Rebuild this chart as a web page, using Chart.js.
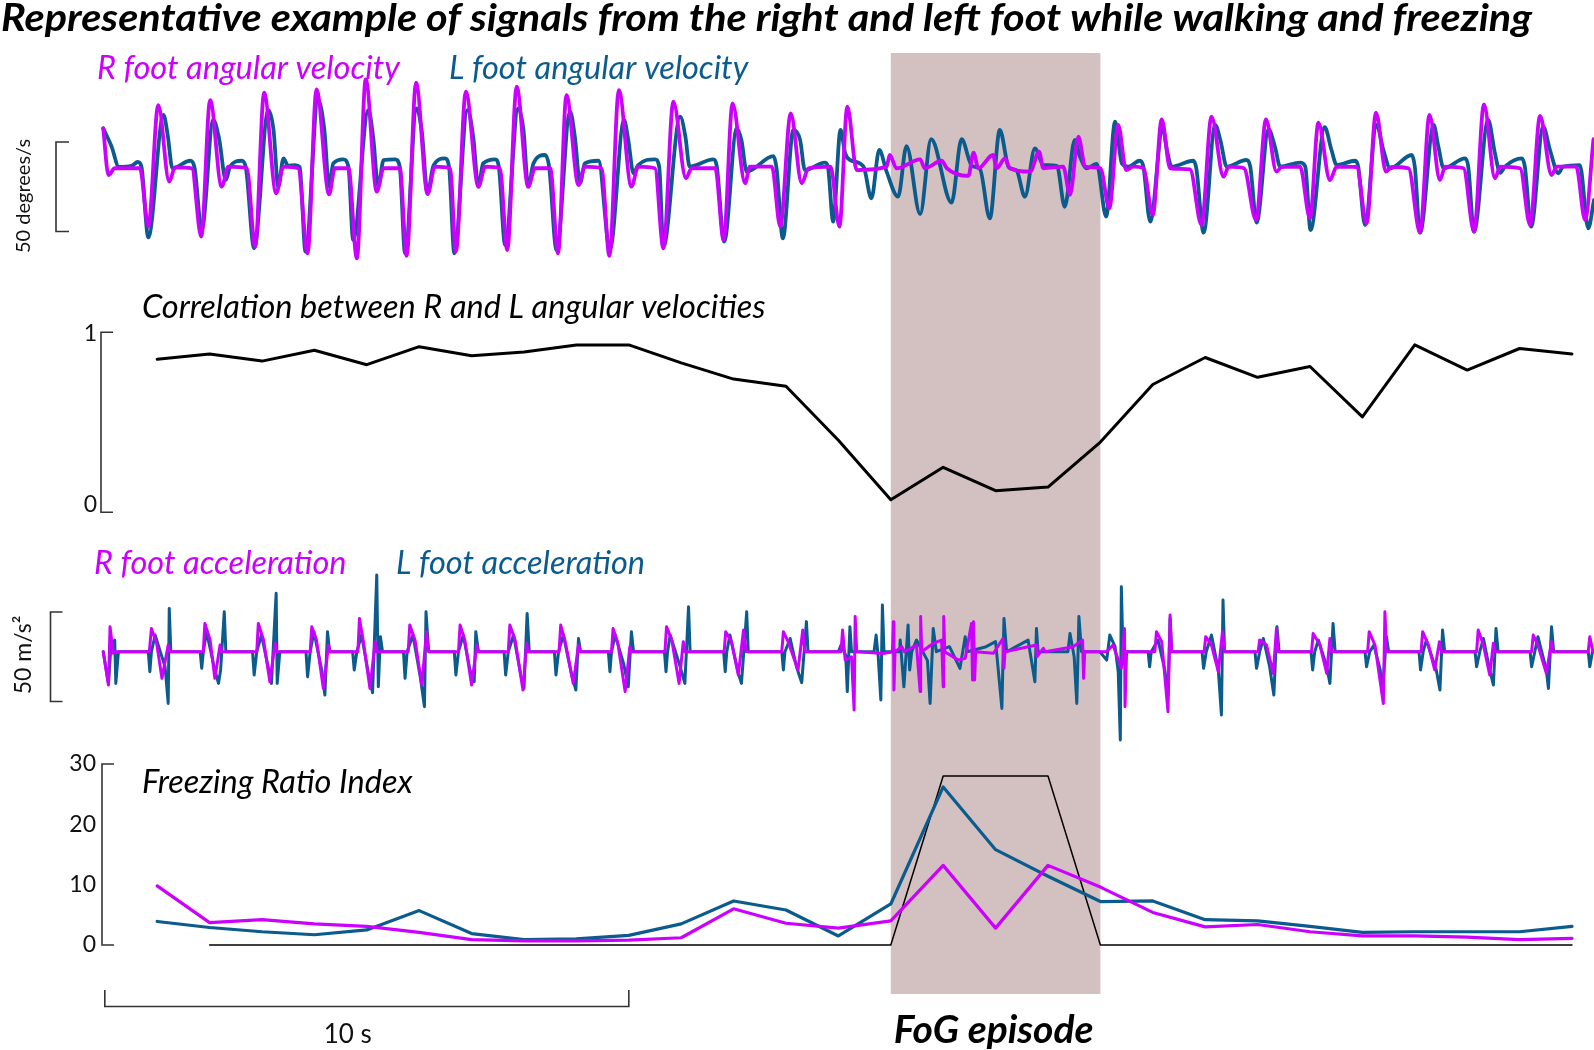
<!DOCTYPE html>
<html>
<head>
<meta charset="utf-8">
<title>Walking and freezing signals</title>
<script src="https://cdn.jsdelivr.net/npm/chart.js@4.4.0/dist/chart.umd.min.js"></script>
<style>
  html, body { margin: 0; padding: 0; background: #fff; }
  #wrap { width: 1594px; height: 1050px; }
</style>
</head>
<body>
<div id="wrap"><canvas id="fogChart" width="1594" height="1050"></canvas></div>
<script>
/* ===============================
   Data (time in s)
================================ */
// FoG episode and the 10 s scale bar
const fogStart = 15;
const fogEnd = 19;
const scaleBarStart = 0;
const scaleBarLength = 10;

// Angular velocity, deg/s: [t, value]
const rAngVel = [
  [-0.03,21.6],[0.07,-4.5],[0.19,-0.7],[0.67,-0.7],[0.83,-33.3],[1.02,34.6],[1.23,-8.2],[1.34,-0.2],
  [1.66,-0.7],[1.84,-38.9],[2.01,37.4],[2.23,-11.0],[2.36,0.2],[2.71,-0.7],[2.87,-44.5],[3.04,41.5],
  [3.27,-14.7],[3.41,0.2],[3.69,-0.7],[3.87,-48.2],[4.04,43.4],[4.28,-15.3],[4.39,-0.7],[4.65,-0.7],
  [4.81,-51.0],[4.98,49.0],[5.19,-13.8],[5.32,-0.7],[5.63,-0.7],[5.76,-49.7],[5.94,47.1],[6.16,-15.1],
  [6.30,0.2],[6.59,-0.7],[6.70,-47.3],[6.89,42.1],[7.13,-11.0],[7.26,0.2],[7.54,-0.7],[7.68,-46.4],
  [7.86,44.9],[8.08,-11.0],[8.21,-0.7],[8.50,-0.7],[8.65,-48.2],[8.81,40.2],[9.04,-10.1],[9.16,0.2],
  [9.48,-0.7],[9.63,-49.7],[9.81,43.0],[10.05,-11.0],[10.18,0.2],[10.50,-0.7],[10.66,-45.4],[10.85,36.5],
  [11.09,-6.3],[11.20,-0.7],[11.65,-0.7],[11.81,-40.8],[11.98,35.6],[12.22,-9.1],[12.31,0.2],[12.73,0.2],
  [12.89,-33.3],[13.09,30.0],[13.30,-9.1],[13.43,-0.7],[13.85,0.2],[14.02,-33.3],[14.17,33.7],[14.35,-1.7],
  [14.92,0.2],[14.98,6.7],[15.11,-0.7],[15.56,4.3],[15.65,-0.7],[15.97,3.5],[16.07,-0.7],[16.48,-5.0],
  [16.58,8.0],[16.67,-0.7],[16.95,6.7],[17.02,-0.7],[17.18,4.8],[17.27,-0.7],[17.66,-2.6],[17.83,8.6],
  [17.91,-0.7],[18.29,0.2],[18.42,-15.6],[18.58,17.0],[18.71,0.2],[19.00,-0.7],[19.17,-23.1],[19.34,23.5],
  [19.49,-1.7],[19.63,0.2],[19.82,-0.7],[20.00,-26.8],[20.17,26.6],[20.33,-0.7],[20.71,-1.3],[20.93,-32.4],
  [21.12,28.1],[21.35,-5.4],[21.45,0.2],[21.74,-0.7],[21.97,-29.6],[22.16,26.6],[22.36,-2.6],[22.46,0],
  [22.81,0.2],[23.00,-28.7],[23.16,24.8],[23.38,-7.3],[23.51,0.2],[23.89,0],[24.08,-31.5],[24.26,30.4],
  [24.45,-2.6],[24.56,0],[24.88,-0.7],[25.10,-36.7],[25.28,29.1],[25.48,-7.3],[25.58,0.2],[25.93,-0.7],
  [26.13,-36.1],[26.32,35.0],[26.53,-6.3],[26.63,0.2],[27.01,-0.7],[27.20,-32.4],[27.39,28.5],[27.61,-4.5],
  [27.71,0.2],[28.08,0.2],[28.25,-29.6],[28.41,15.5]
];
const lAngVel = [
  [-0.03,21.6],[0.13,11.4],[0.27,0],[0.51,0.6],[0.63,2.8],[0.70,0],[0.83,-39.3],[1.12,29.1],[1.20,17.9],
  [1.29,-0.7],[1.63,3.5],[1.71,0],[1.85,-35.2],[2.07,26.3],[2.18,16.0],[2.31,-7.3],[2.39,0.2],[2.61,3.5],
  [2.69,0],[2.85,-45.4],[3.12,31.8],[3.22,20.7],[3.31,-11.0],[3.41,4.8],[3.50,0.6],[3.63,1.1],[3.72,0],
  [3.83,-47.3],[4.07,37.4],[4.19,20.7],[4.28,-11.0],[4.36,2.0],[4.55,4.3],[4.65,0],[4.74,-40.8],[5.03,31.8],
  [5.12,17.0],[5.22,-11.0],[5.32,3.9],[5.54,4.3],[5.63,0],[5.73,-48.2],[5.95,32.8],[6.05,19.7],[6.16,-14.7],
  [6.27,0.6],[6.49,4.8],[6.57,0],[6.67,-48.2],[6.92,31.8],[7.03,17.0],[7.13,-11.0],[7.22,2.0],[7.45,4.3],
  [7.52,0],[7.64,-43.6],[7.89,32.8],[7.99,20.7],[8.08,-11.0],[8.18,2.0],[8.40,6.7],[8.48,0],[8.62,-46.4],
  [8.88,30.9],[8.97,17.0],[9.07,-9.1],[9.16,2.0],[9.42,3.5],[9.64,-46.0],[9.91,26.3],[9.99,15.0],[10.09,-3.5],
  [10.18,1.1],[10.50,4.3],[10.58,0.2],[10.66,-44.5],[10.98,28.1],[11.08,17.0],[11.16,0.2],[11.61,4.3],
  [11.68,0.2],[11.82,-41.7],[12.06,21.6],[12.15,15.0],[12.25,-2.6],[12.76,6.1],[12.82,-0.7],[12.94,-39.9],
  [13.14,20.7],[13.27,15.0],[13.36,-1.7],[13.74,2.4],[13.80,0.2],[13.90,-30.5],[14.04,20.7],[14.13,7.6],
  [14.22,3.9],[14.48,0.2],[14.63,-17.5],[14.78,9.5],[14.92,-2.6],[15.14,-16.6],[15.30,11.7],[15.56,-26.3],
  [15.77,15.5],[16.16,-19.9],[16.35,15.5],[16.55,0.5],[16.70,-1.0],[16.89,-28.7],[17.08,20.7],[17.25,0],
  [17.40,-2.0],[17.56,-16.6],[17.75,10.4],[17.91,1.1],[18.17,0.6],[18.32,-22.2],[18.51,15.1],[18.61,5.8],
  [18.74,-0.7],[18.93,1.7],[19.11,-27.7],[19.28,25.3],[19.41,2.0],[19.53,0.2],[19.75,3.5],[19.82,0.2],
  [19.95,-30.5],[20.19,21.6],[20.27,9.5],[20.36,0.2],[20.77,3.5],[20.83,-0.7],[20.97,-36.7],[21.19,23.5],
  [21.29,15.0],[21.41,0.2],[21.78,3.9],[21.86,0.2],[21.98,-31.1],[22.21,21.0],[22.33,11.4],[22.43,0.2],
  [22.81,2.4],[22.91,0.2],[23.01,-35.2],[23.28,22.2],[23.41,9.5],[23.51,1.1],[23.86,3.5],[23.92,0.2],
  [24.05,-32.4],[24.27,23.5],[24.40,9.5],[24.53,-0.7],[24.94,6.7],[25.00,0.2],[25.10,-36.7],[25.36,23.5],
  [25.45,11.4],[25.55,-0.7],[25.96,4.8],[26.02,0.2],[26.13,-36.1],[26.40,26.3],[26.53,7.6],[26.63,-3.2],
  [26.72,0.2],[27.04,4.8],[27.10,0.2],[27.22,-33.3],[27.45,22.5],[27.58,9.5],[27.74,-3.5],[27.83,0.2],
  [28.15,1.1],[28.31,-34.3],[28.42,-18.4]
];

// Correlation between R and L angular velocities (one value per second)
const corrTimes = [1,2,3,4,5,6,7,8,9,10,11,12,13,14,15,16,17,18,19,20,21,22,23,24,25,26,27,28];
const corrValues = [0.85,0.88,0.84,0.90,0.82,0.92,0.87,0.89,0.93,0.93,0.83,0.74,0.70,0.40,
                    0.07,0.25,0.12,0.14,0.39,0.71,0.86,0.75,0.81,0.53,0.93,0.79,0.91,0.88];

// Acceleration, m/s^2: [t, value]
const rAcc = [
  [-0.03,0],[0.07,-18.6],[0.10,14.0],[0.16,-0.9],[0.20,0],
  [0.85,0],[0.89,13.0],[0.99,4.7],[1.09,-14.9],[1.21,3.7],[1.24,0],
  [1.88,0],[1.91,15.8],[2.01,6.5],[2.10,-14.9],[2.20,3.7],[2.23,0],
  [2.90,0],[2.93,15.8],[3.03,6.5],[3.15,-16.8],[3.25,4.7],[3.28,0],
  [3.92,0],[3.95,14.0],[4.04,6.5],[4.17,-20.5],[4.27,3.7],[4.30,0],
  [4.83,0],[4.86,18.6],[4.93,6.5],[5.06,-20.5],[5.16,5.6],[5.19,0],
  [5.79,0],[5.82,14.9],[5.92,6.5],[6.05,-18.6],[6.14,11.2],[6.18,0],
  [6.75,0],[6.78,14.9],[6.87,6.5],[7.00,-18.6],[7.10,3.7],[7.13,0],
  [7.70,0],[7.73,14.9],[7.83,6.5],[7.98,-21.4],[8.05,4.7],[8.08,0],
  [8.67,0],[8.70,14.9],[8.78,6.5],[8.94,-17.7],[9.04,3.7],[9.08,0],
  [9.67,0],[9.70,13.0],[9.79,5.0],[9.93,-22.3],[10.02,2.8],[10.05,0],
  [10.69,0],[10.72,14.0],[10.82,6.5],[10.96,-17.7],[11.04,5.6],[11.07,0],
  [11.82,0],[11.85,11.2],[11.96,5.6],[12.09,-13.0],[12.19,12.1],[12.24,0],
  [12.92,0],[12.95,11.2],[13.04,5.6],[13.23,-10.2],[13.32,12.1],[13.36,0],
  [14.05,0],[14.08,12.1],[14.13,-4.7],[14.25,-2.8],[14.30,-32.6],[14.32,19.6],[14.35,0],
  [14.86,-1.0],[15.03,0],[15.05,16.8],[15.06,-21.4],[15.08,0],[15.21,2.8],[15.26,0],
  [15.49,3.7],[15.56,-22.3],[15.57,19.6],[15.59,0],[15.81,4.7],[15.97,6.5],[16.00,-19.6],[16.01,19.6],[16.03,0],
  [16.29,-4.7],[16.42,-3.7],[16.54,15.8],[16.56,-15.8],[16.58,16.8],[16.60,-15.8],[16.62,0],
  [16.96,-0.9],[17.14,7.4],[17.16,-9.3],[17.18,0],[17.78,3.7],[17.79,-2.8],[17.91,1.9],[17.95,0],
  [18.48,2.8],[18.66,6.5],[18.68,-14.9],[18.70,0],
  [19.12,0],[19.24,3.7],[19.40,-9.3],[19.46,13.0],[19.47,-30.7],[19.50,0],
  [20.04,0],[20.07,11.2],[20.17,5.6],[20.29,-33.5],[20.33,20.5],[20.36,0],
  [20.98,0],[21.01,8.4],[21.12,3.7],[21.25,-11.2],[21.33,11.2],[21.37,0],
  [22.01,0],[22.04,6.5],[22.17,3.7],[22.30,-12.1],[22.36,13.0],[22.39,0],
  [23.03,0],[23.06,10.2],[23.19,3.7],[23.32,-12.1],[23.38,7.4],[23.41,0],
  [24.10,0],[24.13,11.2],[24.24,3.7],[24.40,-28.9],[24.43,22.3],[24.46,0],
  [25.12,0],[25.15,11.2],[25.26,3.7],[25.38,-10.2],[25.47,5.6],[25.51,0],
  [26.18,0],[26.21,12.1],[26.31,3.7],[26.43,-13.0],[26.50,4.7],[26.53,0],
  [27.23,0],[27.26,9.3],[27.35,3.7],[27.51,-12.1],[27.61,5.6],[27.64,0],
  [28.31,0],[28.34,8.4],[28.40,0]
];
const lAcc = [
  [-0.03,0],[0.07,-17.7],[0.11,0],[0.19,6.5],[0.21,-17.7],[0.26,0],
  [0.83,0],[0.86,-11.2],[0.89,0],[0.96,9.3],[1.05,0.9],[1.15,-8.4],[1.21,-28.9],[1.23,24.2],[1.26,0],
  [1.82,0],[1.85,-9.3],[1.88,0],[1.94,11.2],[2.10,-10.2],[2.17,-17.7],[2.21,-10.2],[2.28,22.3],[2.31,0],
  [2.82,0],[2.85,-13.0],[2.90,0],[2.99,9.3],[3.09,-4.7],[3.18,-17.7],[3.27,32.6],[3.29,-17.7],[3.34,0],
  [3.84,0],[3.87,-14.0],[3.92,0],[3.99,11.2],[4.14,-10.2],[4.20,-24.2],[4.25,11.2],[4.29,0],
  [4.73,0],[4.76,-10.2],[4.81,0],[4.90,9.3],[5.03,-12.1],[5.11,-22.9],[5.19,42.8],[5.22,-19.6],[5.26,8.4],[5.30,0],
  [5.70,0],[5.73,-14.9],[5.77,0],[5.88,9.3],[6.02,-14.0],[6.10,-30.7],[6.13,22.3],[6.18,0],
  [6.67,0],[6.70,-13.0],[6.75,0],[6.84,9.3],[6.97,-10.2],[7.05,-16.8],[7.08,11.2],[7.13,0],
  [7.62,0],[7.65,-13.0],[7.70,0],[7.80,9.3],[7.94,-13.0],[8.00,-20.5],[8.06,21.4],[8.10,0],
  [8.58,0],[8.61,-13.0],[8.66,0],[8.75,9.3],[8.91,-13.0],[8.99,-21.4],[9.04,7.4],[9.08,0],
  [9.61,0],[9.64,-11.2],[9.67,0],[9.74,9.3],[9.90,-6.5],[9.99,-19.6],[10.05,11.2],[10.09,0],
  [10.68,0],[10.71,-11.2],[10.74,0],[10.79,9.3],[10.98,-8.4],[11.07,-17.7],[11.14,25.1],[11.17,0],
  [11.81,0],[11.84,-11.2],[11.87,0],[11.93,9.3],[12.09,-12.1],[12.15,-17.7],[12.25,22.3],[12.28,0],
  [12.92,0],[12.95,-10.2],[12.98,0],[13.08,7.4],[13.20,-8.4],[13.30,-17.3],[13.39,16.8],[13.42,0],
  [14.00,0],[14.05,3.7],[14.14,-2.0],[14.17,-22.3],[14.22,14.0],[14.25,0],
  [14.68,0],[14.72,9.3],[14.76,-2.8],[14.81,-27.0],[14.84,26.1],[14.87,0],
  [15.17,0],[15.18,6.5],[15.25,-19.6],[15.33,14.9],[15.36,-10.2],[15.40,0],
  [15.49,6.5],[15.70,-5.0],[15.75,-28.9],[15.81,13.0],[15.87,0],
  [16.12,2.8],[16.32,-9.3],[16.42,8.4],[16.46,0],
  [16.82,2.8],[17.00,5.6],[17.12,-31.7],[17.16,18.6],[17.21,0],
  [17.62,6.5],[17.75,-16.8],[17.78,13.0],[17.81,0],
  [18.38,0],[18.42,10.2],[18.50,-3.0],[18.55,-28.9],[18.59,19.6],[18.64,0],
  [18.99,0],[19.12,-4.7],[19.18,9.3],[19.28,2.8],[19.34,-11.2],[19.38,-49.3],[19.40,36.3],[19.43,0],
  [19.91,0],[19.94,-8.4],[19.97,0],[20.10,6.5],[20.23,-10.2],[20.29,-24.2],[20.33,18.6],[20.36,0],
  [20.94,0],[20.97,-9.3],[21.02,0],[21.12,9.3],[21.25,-10.2],[21.31,-35.4],[21.34,28.9],[21.37,0],
  [21.95,0],[21.98,-9.3],[22.04,0],[22.11,7.4],[22.23,-8.4],[22.31,-24.2],[22.37,14.0],[22.41,0],
  [23.02,0],[23.05,-10.2],[23.09,0],[23.16,6.5],[23.32,-8.4],[23.38,-17.7],[23.44,15.8],[23.48,0],
  [24.05,0],[24.08,-8.4],[24.14,0],[24.22,3.7],[24.34,-10.2],[24.38,-23.3],[24.46,8.4],[24.50,0],
  [25.08,0],[25.11,-10.2],[25.16,0],[25.22,6.5],[25.41,-10.2],[25.48,-21.4],[25.53,12.1],[25.57,0],
  [26.15,0],[26.18,-8.4],[26.24,0],[26.31,7.4],[26.43,-10.2],[26.50,-18.6],[26.55,13.0],[26.59,0],
  [27.20,0],[27.23,-8.4],[27.29,0],[27.35,8.4],[27.51,-10.2],[27.55,-20.5],[27.61,14.0],[27.65,0],
  [28.31,0],[28.34,-8.4],[28.39,0],[28.42,0]
];

// Freezing Ratio Index (one value per second)
const friTimes = [1,2,3,4,5,6,7,8,9,10,11,12,13,14,15,16,17,18,19,20,21,22,23,24,25,26,27,28];
const friL = [3.9,2.9,2.2,1.7,2.5,5.7,1.9,0.9,1.0,1.6,3.5,7.3,5.8,1.5,
              6.8,26.2,15.8,11.4,7.2,7.3,4.2,4.0,3.1,2.1,2.2,2.2,2.2,3.1];
const friR = [9.8,3.7,4.2,3.5,3.1,2.1,0.9,0.7,0.7,0.8,1.2,6.0,3.6,2.8,
              4.0,13.2,2.8,13.2,9.6,5.4,3.0,3.4,2.2,1.5,1.5,1.3,0.9,1.1];
// FoG detection flag drawn on the FRI panel
const flagTimes = [2, 15, 16, 18, 19, 28];
const flagValues = [0, 0, 28, 28, 0, 0];

/* ===============================
   Styles
================================ */
const magenta = "#cc00ff";   // R foot
const blue = "#0b5b8d";      // L foot
const fogShade = "#d3c1c1";
const ink = "#111111";

// plot area on the page, all panels share it (px)
const area = { top: 53, bottom: 994 };

// y range so that value v1 sits at pixel p1 and v2 at p2
function span(v1, p1, v2, p2) {
  const u = (v1 - v2) / (p2 - p1);
  return { min: v1 - (area.bottom - p1) * u, max: v1 + (p1 - area.top) * u };
}

const pairs = (list) => list.map((p) => ({ x: p[0], y: p[1] }));
const zip = (xs, ys) => xs.map((x, i) => ({ x: x, y: ys[i] }));

function lineSet(label, data, axis, color, width, order, smooth) {
  return {
    label: label,
    data: data,
    yAxisID: axis,
    borderColor: color,
    borderWidth: width,
    pointRadius: 0,
    fill: false,
    order: order,
    tension: smooth ? 0.4 : 0,
    cubicInterpolationMode: smooth ? "monotone" : "default",
    borderJoinStyle: "round",
    borderCapStyle: "round",
  };
}

/* ===============================
   Decorations: shading, brackets, texts
================================ */
function bracket(ctx, x, y0, y1, tick) {
  ctx.beginPath();
  ctx.moveTo(x + tick, y0);
  ctx.lineTo(x, y0);
  ctx.lineTo(x, y1);
  ctx.lineTo(x + tick, y1);
  ctx.stroke();
}

function text(ctx, str, x, y, font, color, align) {
  ctx.font = font;
  ctx.fillStyle = color;
  ctx.textAlign = align || "left";
  ctx.fillText(str, x, y);
}

// left-aligned text stretched to a given width
function wideText(ctx, str, x, y, font, color, width) {
  ctx.save();
  ctx.font = font;
  ctx.fillStyle = color;
  ctx.textAlign = "left";
  const w = ctx.measureText(str).width;
  ctx.translate(x, y);
  ctx.scale(width / w, 1);
  ctx.fillText(str, 0, 0);
  ctx.restore();
}

function vtext(ctx, str, cx, cy, font) {
  ctx.save();
  ctx.translate(cx, cy);
  ctx.rotate(-Math.PI / 2);
  ctx.font = font;
  ctx.fillStyle = ink;
  ctx.textAlign = "center";
  ctx.textBaseline = "middle";
  ctx.fillText(str, 0, 0);
  ctx.restore();
}

const fogDecor = {
  id: "fogDecor",
  beforeDatasetsDraw(chart) {
    const { ctx, chartArea, scales } = chart;
    const x0 = scales.x.getPixelForValue(fogStart);
    const x1 = scales.x.getPixelForValue(fogEnd);
    ctx.save();
    ctx.fillStyle = fogShade;
    ctx.fillRect(x0, chartArea.top, x1 - x0, chartArea.bottom - chartArea.top);
    ctx.restore();
  },
  afterDraw(chart) {
    const { ctx, scales } = chart;
    const yAv = scales.yAv, yCorr = scales.yCorr, yAcc = scales.yAcc, yFri = scales.yFri;
    ctx.save();
    ctx.textBaseline = "alphabetic";

    // title
    wideText(ctx, "Representative example of signals from the right and left foot while walking and freezing",
      1, 31, "italic bold 38px Lato", "#000", 1531);

    // angular velocity panel
    text(ctx, "R foot angular velocity", 97, 79, "italic 32.5px Lato", magenta);
    text(ctx, "L foot angular velocity", 449, 79, "italic 32.5px Lato", blue);
    ctx.strokeStyle = "#333";
    ctx.lineWidth = 1.6;
    const avLen = yAv.getPixelForValue(0) - yAv.getPixelForValue(50);
    bracket(ctx, 56, 142, 142 + avLen, 13);
    vtext(ctx, "50 degrees/s", 24, 196, "20px Lato");

    // correlation panel
    text(ctx, "Correlation between R and L angular velocities", 142, 318, "italic 32.5px Lato", "#000");
    bracket(ctx, 101, yCorr.getPixelForValue(1), yCorr.getPixelForValue(0), 12);
    ctx.textBaseline = "middle";
    text(ctx, "1", 97, yCorr.getPixelForValue(1) + 1, "23px Lato", ink, "right");
    text(ctx, "0", 97, yCorr.getPixelForValue(0) - 8, "23px Lato", ink, "right");
    ctx.textBaseline = "alphabetic";

    // acceleration panel
    text(ctx, "R foot acceleration", 94, 574, "italic 32.5px Lato", magenta);
    text(ctx, "L foot acceleration", 396, 574, "italic 32.5px Lato", blue);
    ctx.strokeStyle = "#333";
    const accLen = yAcc.getPixelForValue(0) - yAcc.getPixelForValue(50);
    bracket(ctx, 50.5, 612, 612 + accLen, 12);
    vtext(ctx, "50 m/s\u00b2", 24, 655, "23px Lato");

    // freezing ratio index panel
    text(ctx, "Freezing Ratio Index", 142, 793, "italic 32.5px Lato", "#000");
    bracket(ctx, 102, yFri.getPixelForValue(30), yFri.getPixelForValue(0), 12);
    ctx.textBaseline = "middle";
    [30, 20, 10, 0].forEach((v) => {
      text(ctx, String(v), 96, yFri.getPixelForValue(v), "23px Lato", ink, "right");
    });
    ctx.textBaseline = "alphabetic";

    // 10 s scale bar
    const sx0 = scales.x.getPixelForValue(scaleBarStart);
    const sx1 = scales.x.getPixelForValue(scaleBarStart + scaleBarLength);
    ctx.strokeStyle = "#333";
    ctx.lineWidth = 1.6;
    ctx.beginPath();
    ctx.moveTo(sx0, 990);
    ctx.lineTo(sx0, 1006.5);
    ctx.lineTo(sx1, 1006.5);
    ctx.lineTo(sx1, 990);
    ctx.stroke();
    text(ctx, "10 s", (sx0 + sx1) / 2 - 19, 1043, "26px Lato", ink, "center");

    // FoG label
    const fx = (scales.x.getPixelForValue(fogStart) + scales.x.getPixelForValue(fogEnd)) / 2;
    text(ctx, "FoG episode", fx - 2, 1043, "italic bold 39px Lato", "#000", "center");
    ctx.restore();
  },
};

/* ===============================
   Chart
================================ */
const ctx = document.getElementById("fogChart");

new Chart(ctx, {
  type: "line",
  data: {
    datasets: [
      lineSet("R foot angular velocity", pairs(rAngVel), "yAv", magenta, 3.8, 0, true),
      lineSet("L foot angular velocity", pairs(lAngVel), "yAv", blue, 3.8, 1, true),
      lineSet("Correlation", zip(corrTimes, corrValues), "yCorr", "#000", 3, 0, false),
      lineSet("R foot acceleration", pairs(rAcc), "yAcc", magenta, 3, 0, false),
      lineSet("L foot acceleration", pairs(lAcc), "yAcc", blue, 3, 1, false),
      lineSet("FRI R", zip(friTimes, friR), "yFri", magenta, 3.2, 0, false),
      lineSet("FRI L", zip(friTimes, friL), "yFri", blue, 3.2, 1, false),
      lineSet("FoG flag", zip(flagTimes, flagValues), "yFri", "#000", 1.5, 2, false),
    ],
  },
  options: {
    responsive: false,
    animation: false,
    events: [],
    layout: { padding: { top: area.top, bottom: 1050 - area.bottom, left: 0, right: 0 } },
    plugins: {
      legend: { display: false },
      tooltip: { enabled: false },
      title: { display: false },
    },
    scales: {
      x: { type: "linear", min: -2.0, max: 28.42, display: false },
      yAv: Object.assign({ type: "linear", display: false }, span(0, 167, 50, 77.5)),
      yCorr: Object.assign({ type: "linear", display: false }, span(1, 332.3, 0, 512.3)),
      yAcc: Object.assign({ type: "linear", display: false }, span(0, 651.7, 50, 562.2)),
      yFri: Object.assign({ type: "linear", display: false }, span(0, 945, 30, 764)),
    },
  },
  plugins: [fogDecor],
});
</script>
</body>
</html>
